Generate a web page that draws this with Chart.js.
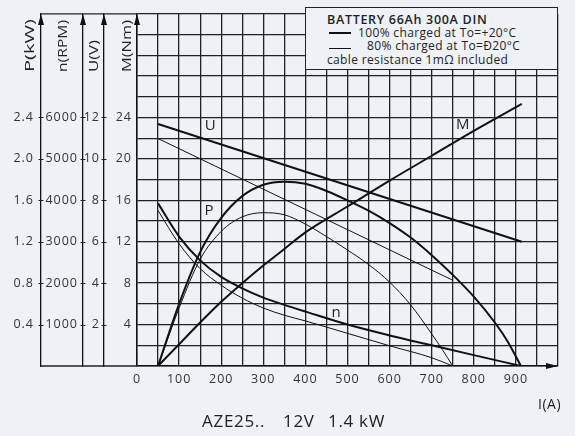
<!DOCTYPE html>
<html><head><meta charset="utf-8">
<script src="https://cdn.jsdelivr.net/npm/chart.js@4.4.1/dist/chart.umd.min.js"></script>
<style>
html,body{margin:0;padding:0;background:#eef2f6;}
#wrap{position:relative;width:575px;height:436px;overflow:hidden;font-family:"Open Sans",sans-serif;color:#222;}
#c{position:absolute;left:0;top:0;}
.t{position:absolute;white-space:pre;line-height:1;}
#legend{position:absolute;left:305px;top:7px;width:253px;height:63px;box-sizing:border-box;border:1px solid #222;background:#eef2f6;}
#legend .t{font-size:12px;letter-spacing:0.35px;}
.sw{position:absolute;background:#111;}
.ttl{font-size:17px;letter-spacing:0.7px;top:411.6px;}
</style></head><body>
<div id="wrap">
<canvas id="c" width="575" height="436"></canvas>
<div id="legend">
  <div class="t" style="left:21px;top:6.3px;font-weight:600;font-size:12.5px;letter-spacing:0.7px">BATTERY 66Ah 300A DIN</div>
  <div class="sw" style="left:23px;top:24px;width:22px;height:2px"></div>
  <div class="t" style="left:52px;top:18.6px">100% charged at To=+20°C</div>
  <div class="sw" style="left:23px;top:40px;width:22px;height:1px"></div>
  <div class="t" style="left:61px;top:32px">80% charged at To=Ð20°C</div>
  <div class="t" style="left:21px;top:46.3px">cable resistance 1mΩ included</div>
</div>
<div class="t" style="left:538px;top:396.6px;font-size:14px;letter-spacing:0.5px">I(A)</div>
<div class="t ttl" style="left:202px">AZE25..</div>
<div class="t ttl" style="left:283px">12V</div>
<div class="t ttl" style="left:328px">1.4 kW</div>
</div>
<script>
// ---- tick labels ----
const currentLabels = [0,100,200,300,400,500,600,700,800,900];
const torqueLabels  = [4,8,12,16,20,24];
const powerLabels   = [0.4,0.8,1.2,1.6,2.0,2.4];
const speedLabels   = [1000,2000,3000,4000,5000,6000];
const voltageLabels = [2,4,6,8,10,12];

// ---- series (current in A) ----
const iPowerFull = [50,100,150,200,250,300,350,400,450,500,550,600,650,700,750,800,850,880,912];
const powerFull  = [0,0.60,1.10,1.43,1.64,1.75,1.78,1.76,1.69,1.60,1.50,1.38,1.24,1.07,0.88,0.67,0.42,0.24,0];
const iPowerLow  = [50,100,150,200,250,300,350,400,450,500,550,600,650,700,725,750];
const powerLow   = [0,0.56,1.03,1.30,1.44,1.48,1.46,1.37,1.25,1.12,0.98,0.81,0.59,0.31,0.16,0];
const iSpeedFull = [50,100,150,200,250,300,350,400,500,600,700,800,912];
const speedFull  = [3925,3125,2550,2150,1875,1650,1475,1313,1000,738,500,263,0];
const iSpeedLow  = [50,100,150,200,250,300,350,400,500,600,700,750];
const speedLow   = [3750,2950,2350,1950,1638,1400,1225,1088,788,488,200,0];
const iVoltFull  = [50,914];
const voltFull   = [11.68,6.0];
const iVoltLow   = [50,750];
const voltLow    = [10.98,4.14];
const iTorque    = [50,100,150,200,250,300,350,400,500,600,700,800,914];
const torque     = [0,2.1,4.2,6.2,8.0,9.7,11.3,12.9,15.4,17.9,20.3,22.7,25.3];

function pts(xs, ys){ return xs.map((x,i)=>({x:x, y:ys[i]})); }
function range(a,b,s){ const r=[]; for(let v=a; v<=b+1e-9; v+=s) r.push(+v.toFixed(6)); return r; }

const FONT = "'Open Sans', sans-serif";
const tickFont = {family:FONT, size:12.5, lineHeight:1.1};
const LINE = '#111';
const GRID = '#222';

function line(label, data, axis, w){
  return {label, data, yAxisID:axis, borderColor:LINE, backgroundColor:LINE, borderWidth:w,
          pointRadius:0, fill:false, cubicInterpolationMode:'monotone'};
}

const axisTitles = [
  {id:'p', text:'P(kW)',  dx:-10,  len:53},
  {id:'n', text:'n(RPM)', dx:-19.5,len:52},
  {id:'u', text:'U(V)',   dx:-9,   len:32},
  {id:'m', text:'M(Nm)',  dx:-9.5, len:52}
];
const curveLabels = [
  {text:'U', i:174, m:23.2},
  {text:'P', i:171, m:15.0},
  {text:'M', i:774, m:23.3},
  {text:'n', i:473, m:5.1}
];

const decor = {
  id:'decor',
  beforeUpdate(chart){ chart.ctx.letterSpacing = '1px'; },
  afterDraw(chart){
    const ctx = chart.ctx, ca = chart.chartArea, s = chart.scales;
    ctx.save();
    ctx.letterSpacing = '0px';
    ctx.strokeStyle = GRID; ctx.fillStyle = '#111'; ctx.lineWidth = 1.3;
    const leftX = s.p.right;
    ctx.beginPath();
    ctx.moveTo(leftX, ca.top); ctx.lineTo(ca.left, ca.top);
    ctx.moveTo(leftX, ca.bottom); ctx.lineTo(ca.left, ca.bottom);
    ctx.stroke();
    ctx.lineWidth = 1;
    ['p','n','u'].forEach(id=>{
      const sc = s[id];
      sc.ticks.forEach(t=>{
        const y = Math.round(sc.getPixelForValue(t.value))+0.5;
        ctx.beginPath(); ctx.moveTo(sc.right-2.5, y); ctx.lineTo(sc.right+2.5, y); ctx.stroke();
      });
    });
    ['p','n','u'].map(id=>s[id].right).concat([ca.left]).forEach(x=>{
      ctx.beginPath(); ctx.moveTo(x, ca.top); ctx.lineTo(x-3, ca.top+11); ctx.lineTo(x+3, ca.top+11); ctx.closePath(); ctx.fill();
    });
    ctx.beginPath(); ctx.moveTo(ca.right, ca.bottom); ctx.lineTo(ca.right-12, ca.bottom-3); ctx.lineTo(ca.right-12, ca.bottom+3); ctx.closePath(); ctx.fill();
    ctx.fillStyle = '#222';
    ctx.font = "12px " + FONT;
    axisTitles.forEach(a=>{
      const sc = s[a.id];
      const w = ctx.measureText(a.text).width;
      ctx.save();
      ctx.translate(sc.right + a.dx, 72);
      ctx.rotate(-Math.PI/2);
      ctx.scale(a.len/w, 1);
      ctx.textAlign = 'left'; ctx.textBaseline = 'middle';
      ctx.fillText(a.text, 0, 0);
      ctx.restore();
    });
    ctx.font = "15px " + FONT;
    ctx.textAlign = 'center'; ctx.textBaseline = 'middle';
    curveLabels.forEach(l=>{
      ctx.fillText(l.text, s.x.getPixelForValue(l.i), s.m.getPixelForValue(l.m));
    });
    ctx.restore();
  }
};

new Chart(document.getElementById('c'), {
  type:'line',
  data:{ datasets:[
    line('P 100%', pts(iPowerFull,powerFull), 'p', 2),
    line('P 80%',  pts(iPowerLow,powerLow),   'p', 1),
    line('n 100%', pts(iSpeedFull,speedFull), 'n', 2),
    line('n 80%',  pts(iSpeedLow,speedLow),   'n', 1),
    line('U 100%', pts(iVoltFull,voltFull),   'u', 2),
    line('U 80%',  pts(iVoltLow,voltLow),     'u', 1),
    line('M',      pts(iTorque,torque),       'm', 2)
  ]},
  options:{
    responsive:false, animation:false,
    layout:{padding:{left:0, top:7, right:17, bottom:40}},
    plugins:{legend:{display:false}, tooltip:{enabled:false}},
    scales:{
      x:{type:'linear', position:'bottom', min:0, max:1000,
        afterBuildTicks: sc=>{ sc.ticks = range(0,1000,50).map(v=>({value:v})); },
        afterFit: sc=>{ sc.height = 30; },
        ticks:{autoSkip:false, maxRotation:0, padding:7, color:'#333', font:tickFont,
          callback: v => currentLabels.includes(v) ? String(v) : ''},
        grid:{color:GRID, lineWidth:1.3, drawTicks:false},
        border:{color:'#111', width:1.5}
      },
      m:{type:'linear', position:'left', weight:0, min:0, max:34,
        afterBuildTicks: sc=>{ sc.ticks = range(0,34,2).map(v=>({value:v})); },
        afterFit: sc=>{ sc.width = 33; },
        ticks:{autoSkip:false, padding:5, color:'#333', font:tickFont,
          callback: v => torqueLabels.includes(v) ? String(v) : ''},
        grid:{color:GRID, lineWidth:1.3, drawTicks:false},
        border:{color:'#111', width:1.5}
      },
      u:{type:'linear', position:'left', weight:1, min:0, max:17,
        afterBuildTicks: sc=>{ sc.ticks = voltageLabels.map(v=>({value:v})); },
        afterFit: sc=>{ sc.width = 21; },
        ticks:{autoSkip:false, padding:4, color:'#333', font:tickFont, callback: v => String(v)},
        grid:{drawOnChartArea:false, drawTicks:false},
        border:{color:'#111', width:1.3}
      },
      n:{type:'linear', position:'left', weight:2, min:0, max:8500,
        afterBuildTicks: sc=>{ sc.ticks = speedLabels.map(v=>({value:v})); },
        afterFit: sc=>{ sc.width = 42; },
        ticks:{autoSkip:false, padding:5, color:'#333', font:tickFont, callback: v => String(v)},
        grid:{drawOnChartArea:false, drawTicks:false},
        border:{color:'#111', width:1.3}
      },
      p:{type:'linear', position:'left', weight:3, min:0, max:3.4,
        afterBuildTicks: sc=>{ sc.ticks = powerLabels.map(v=>({value:v})); },
        afterFit: sc=>{ sc.width = 41; },
        ticks:{autoSkip:false, padding:7, color:'#333', font:tickFont, callback: v => Number(v).toFixed(1)},
        grid:{drawOnChartArea:false, drawTicks:false},
        border:{color:'#111', width:1.3}
      }
    }
  },
  plugins:[decor]
});
</script>
</body></html>
